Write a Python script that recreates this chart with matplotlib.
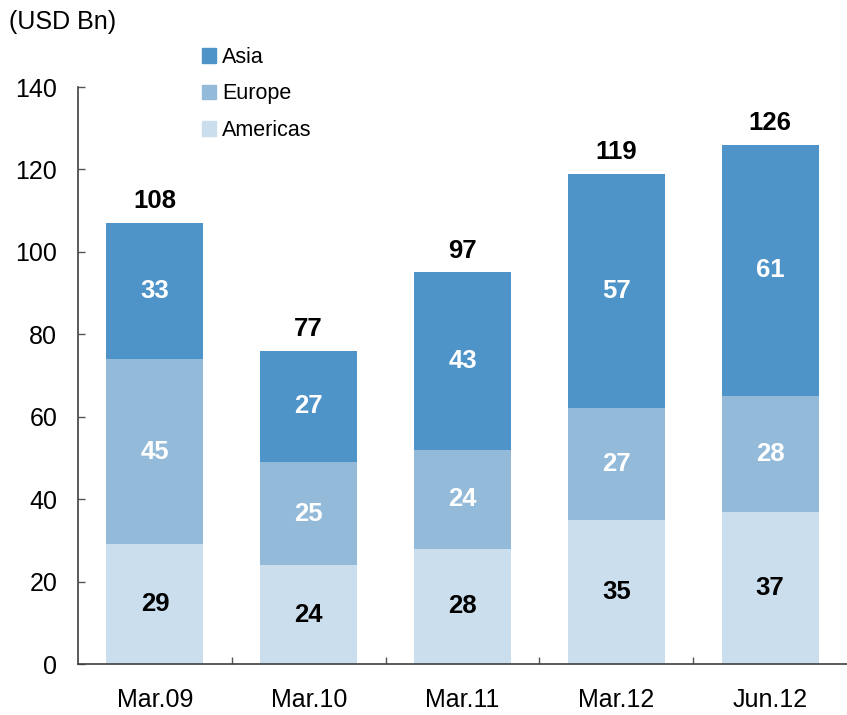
import numpy as np
import matplotlib
matplotlib.use("Agg")
import matplotlib.pyplot as plt
from matplotlib.patches import Patch

plt.rcParams['font.family'] = ['Liberation Sans', 'DejaVu Sans']

# data
periods = ['Mar.09', 'Mar.10', 'Mar.11', 'Mar.12', 'Jun.12']
americas = [29, 24, 28, 35, 37]
europe = [45, 25, 24, 27, 28]
asia = [33, 27, 43, 57, 61]
totals = [108, 77, 97, 119, 126]

c_asia = '#4f94c8'
c_europe = '#93bbd9'
c_americas = '#cadeed'

fig = plt.figure(figsize=(8.47, 7.15), dpi=100)
ax = fig.add_axes([78/847, 51/715, 769/847, 577/715])

x = np.arange(len(periods))
w = 0.63
b1 = ax.bar(x, americas, w, color=c_americas)
bottom2 = np.array(americas)
b2 = ax.bar(x, europe, w, bottom=bottom2, color=c_europe)
bottom3 = bottom2 + np.array(europe)
b3 = ax.bar(x, asia, w, bottom=bottom3, color=c_asia)

lbl = 18.5
ax.bar_label(b1, labels=[str(v) for v in americas], label_type='center',
             fontsize=lbl, fontweight='bold', color='black')
ax.bar_label(b2, labels=[str(v) for v in europe], label_type='center',
             fontsize=lbl, fontweight='bold', color='white')
ax.bar_label(b3, labels=[str(v) for v in asia], label_type='center',
             fontsize=lbl, fontweight='bold', color='white')

tops = bottom3 + np.array(asia)
for xi, top, t in zip(x, tops, totals):
    ax.annotate(str(t), (xi, top), xytext=(0, 7), textcoords='offset points',
                ha='center', va='bottom', fontsize=lbl, fontweight='bold')

ax.set_xlim(-0.5, 4.5)
ax.set_ylim(0, 140)
ax.set_yticks(np.arange(0, 141, 20))
ax.set_xticks(x)
ax.set_xticklabels(periods)
ax.set_xticks(x[:-1] + 0.5, minor=True)
ax.tick_params(axis='x', which='major', length=0, labelsize=18, pad=17)
ax.tick_params(axis='x', which='minor', direction='in', length=5, width=1, color='#555555')
ax.tick_params(axis='y', direction='in', length=5, width=1, color='#555555',
               labelsize=18, pad=15)

for s in ['top', 'right']:
    ax.spines[s].set_visible(False)
for s in ['left', 'bottom']:
    ax.spines[s].set_color('#404040')
    ax.spines[s].set_linewidth(1.2)

fig.text(9/847, 1 - 22/715, '(USD Bn)', fontsize=18, va='center', ha='left')

handles = [Patch(color=c_asia, label='Asia'),
           Patch(color=c_europe, label='Europe'),
           Patch(color=c_americas, label='Americas')]
fig.legend(handles=handles, loc='upper left', bbox_to_anchor=(202/847, 1 - 47/715),
           frameon=False, fontsize=15.5, handlelength=0.65, handleheight=0.65,
           handletextpad=0.3, labelspacing=0.72, borderaxespad=0, borderpad=0)

fig.savefig('out.png', dpi=100)
